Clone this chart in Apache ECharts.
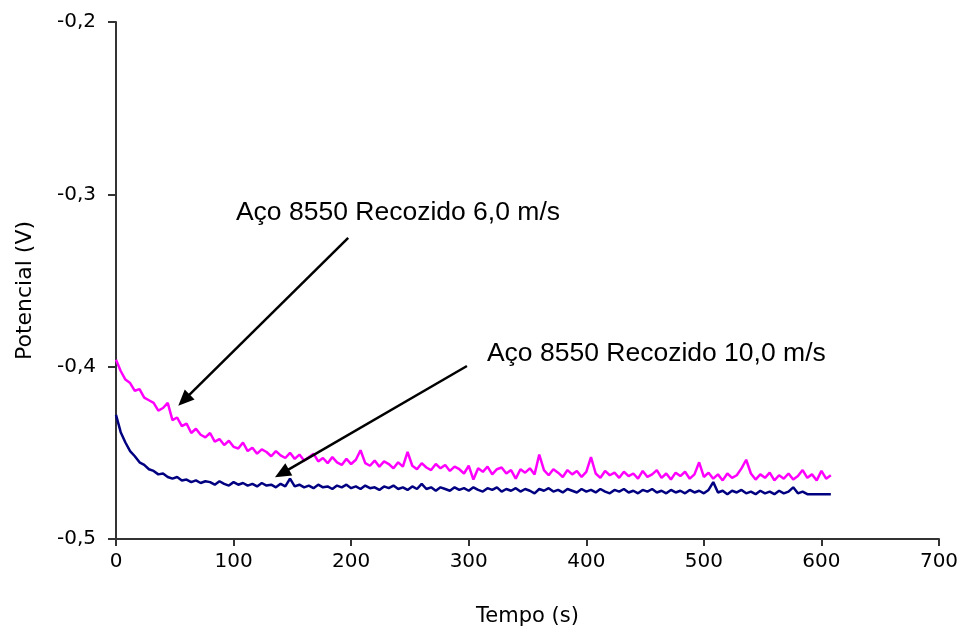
<!DOCTYPE html>
<html>
<head>
<meta charset="utf-8">
<script src="https://cdn.jsdelivr.net/npm/echarts@6/dist/echarts.min.js"></script>
<style>
  html, body { margin: 0; padding: 0; background: #fff; }
  #chart { width: 979px; height: 633px; }
</style>
</head>
<body>
<div id="chart"></div>
<script>
// Sampling step of the potential records (s)
const timeStep = 4;

// Potential (V) vs. time, annealed 8550 steel at 6,0 m/s
const potential6ms = [
  -0.3960, -0.4025, -0.4075, -0.4095, -0.4140, -0.4130, -0.4180, -0.4195, -0.4210, -0.4255,
  -0.4240, -0.4210, -0.4310, -0.4295, -0.4345, -0.4330, -0.4385, -0.4360, -0.4395, -0.4410,
  -0.4385, -0.4435, -0.4420, -0.4455, -0.4430, -0.4465, -0.4475, -0.4440, -0.4490, -0.4470,
  -0.4505, -0.4480, -0.4495, -0.4520, -0.4490, -0.4515, -0.4530, -0.4500, -0.4535, -0.4510,
  -0.4545, -0.4525, -0.4505, -0.4550, -0.4530, -0.4560, -0.4525, -0.4555, -0.4570, -0.4535,
  -0.4565, -0.4540, -0.4485, -0.4560, -0.4575, -0.4545, -0.4580, -0.4550, -0.4565, -0.4590,
  -0.4555, -0.4580, -0.4495, -0.4575, -0.4595, -0.4560, -0.4585, -0.4600, -0.4565, -0.4590,
  -0.4570, -0.4605, -0.4580, -0.4595, -0.4620, -0.4575, -0.4655, -0.4590, -0.4610, -0.4580,
  -0.4625, -0.4595, -0.4585, -0.4620, -0.4600, -0.4650, -0.4595, -0.4615, -0.4590, -0.4625,
  -0.4510, -0.4600, -0.4630, -0.4595, -0.4615, -0.4640, -0.4600, -0.4625, -0.4605, -0.4640,
  -0.4610, -0.4525, -0.4620, -0.4645, -0.4605, -0.4630, -0.4615, -0.4645, -0.4610, -0.4635,
  -0.4620, -0.4650, -0.4605, -0.4640, -0.4625, -0.4600, -0.4645, -0.4620, -0.4655, -0.4615,
  -0.4635, -0.4610, -0.4650, -0.4625, -0.4555, -0.4640, -0.4615, -0.4650, -0.4625, -0.4660,
  -0.4620, -0.4645, -0.4630, -0.4590, -0.4540, -0.4620, -0.4655, -0.4625, -0.4645, -0.4615,
  -0.4660, -0.4630, -0.4650, -0.4620, -0.4655, -0.4635, -0.4600, -0.4645, -0.4625, -0.4660,
  -0.4605, -0.4650, -0.4630
];

// Potential (V) vs. time, annealed 8550 steel at 10,0 m/s
const potential10ms = [
  -0.4280, -0.4380, -0.4440, -0.4490, -0.4520, -0.4555, -0.4570, -0.4595, -0.4605, -0.4625,
  -0.4620, -0.4640, -0.4650, -0.4640, -0.4660, -0.4655, -0.4670, -0.4660, -0.4675, -0.4665,
  -0.4670, -0.4685, -0.4665, -0.4680, -0.4690, -0.4670, -0.4685, -0.4675, -0.4690, -0.4680,
  -0.4695, -0.4675, -0.4690, -0.4685, -0.4700, -0.4680, -0.4695, -0.4650, -0.4695, -0.4685,
  -0.4700, -0.4690, -0.4705, -0.4685, -0.4700, -0.4695, -0.4710, -0.4690, -0.4700, -0.4685,
  -0.4705, -0.4695, -0.4710, -0.4690, -0.4705, -0.4700, -0.4715, -0.4695, -0.4705, -0.4690,
  -0.4710, -0.4700, -0.4715, -0.4695, -0.4710, -0.4680, -0.4710, -0.4700, -0.4720, -0.4700,
  -0.4710, -0.4720, -0.4700, -0.4715, -0.4705, -0.4720, -0.4700, -0.4715, -0.4725, -0.4705,
  -0.4715, -0.4700, -0.4725, -0.4710, -0.4720, -0.4705, -0.4725, -0.4710, -0.4720, -0.4735,
  -0.4710, -0.4720, -0.4705, -0.4725, -0.4715, -0.4730, -0.4710, -0.4720, -0.4730, -0.4710,
  -0.4725, -0.4715, -0.4730, -0.4710, -0.4725, -0.4735, -0.4715, -0.4725, -0.4710, -0.4730,
  -0.4720, -0.4735, -0.4715, -0.4725, -0.4710, -0.4730, -0.4720, -0.4735, -0.4715, -0.4730,
  -0.4720, -0.4735, -0.4715, -0.4730, -0.4720, -0.4735, -0.4715, -0.4670, -0.4730, -0.4720,
  -0.4740, -0.4720, -0.4730, -0.4715, -0.4735, -0.4725, -0.4740, -0.4720, -0.4735, -0.4725,
  -0.4740, -0.4720, -0.4735, -0.4725, -0.4700, -0.4735, -0.4725, -0.4740, -0.4740, -0.4740,
  -0.4740, -0.4740, -0.4740
];

const seriesNames = ['Aço 8550 Recozido 6,0 m/s', 'Aço 8550 Recozido 10,0 m/s'];
const xTicks = [0, 100, 200, 300, 400, 500, 600, 700];
const yTicks = [-0.5, -0.4, -0.3, -0.2];

const toPairs = (vals) => vals.map((v, i) => [i * timeStep, v]);

const axisFont = 'DejaVu Sans, Verdana, sans-serif';
const noteFont = 'Liberation Sans, Arial, sans-serif';
const axisColor = '#333';

const chart = echarts.init(document.getElementById('chart'), null, { renderer: 'canvas' });

// Black pointer lines from each caption to its curve
const arrowStyle = {
  silent: true,
  animation: false,
  symbol: ['none', 'triangle'],
  symbolSize: [14, 16],
  label: { show: false },
  lineStyle: { color: '#000', width: 2.5, type: 'solid' },
  emphasis: { disabled: true }
};

chart.setOption({
  animation: false,
  backgroundColor: '#fff',
  grid: { left: 116, right: 40, top: 22, bottom: 94, containLabel: false },
  xAxis: {
    type: 'value',
    min: xTicks[0],
    max: xTicks[xTicks.length - 1],
    interval: 100,
    name: 'Tempo (s)',
    nameLocation: 'middle',
    nameGap: 67,
    nameTextStyle: { fontFamily: axisFont, fontSize: 21, color: '#000' },
    axisLine: { show: true, lineStyle: { color: axisColor, width: 2 } },
    axisTick: { show: true, inside: false, length: 7, lineStyle: { color: axisColor, width: 2 } },
    axisLabel: { fontFamily: axisFont, fontSize: 20, color: '#000', margin: 13 },
    splitLine: { show: false }
  },
  yAxis: {
    type: 'value',
    min: yTicks[0],
    max: yTicks[yTicks.length - 1],
    interval: 0.1,
    name: 'Potencial (V)',
    nameLocation: 'middle',
    nameGap: 80,
    nameRotate: 90,
    nameTextStyle: { fontFamily: axisFont, fontSize: 22, color: '#000', padding: [0, 20, 0, 0] },
    axisLine: { show: true, onZero: false, lineStyle: { color: axisColor, width: 2 } },
    axisTick: { show: true, inside: false, length: 8, lineStyle: { color: axisColor, width: 2 } },
    axisLabel: {
      fontFamily: axisFont, fontSize: 20, color: '#000', margin: 20,
      formatter: (v) => v.toFixed(1).replace('.', ',')
    },
    splitLine: { show: false }
  },
  series: [
    {
      name: seriesNames[0],
      type: 'line',
      data: toPairs(potential6ms),
      showSymbol: false,
      symbol: 'none',
      lineStyle: { color: '#FF00FF', width: 2.5 },
      itemStyle: { color: '#FF00FF' },
      z: 3,
      markLine: Object.assign({}, arrowStyle, {
        data: [[{ coord: [197.5, -0.3253] }, { coord: [57.8, -0.4194] }]]
      })
    },
    {
      name: seriesNames[1],
      type: 'line',
      data: toPairs(potential10ms),
      showSymbol: false,
      symbol: 'none',
      lineStyle: { color: '#000080', width: 2.5 },
      itemStyle: { color: '#000080' },
      z: 4,
      markLine: Object.assign({}, arrowStyle, {
        data: [[{ coord: [298.5, -0.3996] }, { coord: [141.1, -0.4619] }]]
      })
    }
  ]
});

// Series captions anchored in data space next to their arrows
const captions = [
  { text: seriesNames[0], at: [102, -0.3115] },
  { text: seriesNames[1], at: [315.5, -0.3932] }
];
chart.setOption({
  graphic: captions.map((c) => {
    const p = chart.convertToPixel({ gridIndex: 0 }, c.at);
    return {
      type: 'text',
      left: p[0],
      top: p[1] - 15,
      style: { text: c.text, fontFamily: noteFont, fontSize: 26.5, fill: '#000' },
      silent: true
    };
  })
});
</script>
</body>
</html>
